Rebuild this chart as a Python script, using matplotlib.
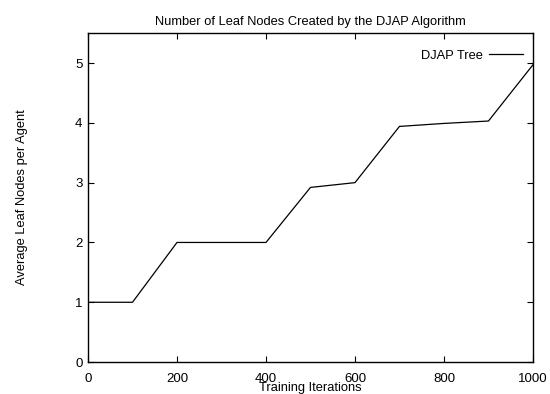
import matplotlib
matplotlib.use('Agg')
from matplotlib import pyplot as plt

plt.rcParams['font.family'] = ['Liberation Sans', 'DejaVu Sans']

iterations = [0, 100, 200, 300, 400, 500, 600, 700, 800, 900, 1000]
leaf_nodes = [1.0, 1.0, 2.0, 2.0, 2.0, 2.92, 3.0, 3.94, 3.99, 4.03, 4.97]

x_ticks = [0, 200, 400, 600, 800, 1000]
y_ticks = [0, 1, 2, 3, 4, 5]

fig = plt.figure(figsize=(5.5, 3.94), dpi=100)
ax = fig.add_axes([0.16, 0.081, 0.809, 0.835])

ax.plot(iterations, leaf_nodes, color='black', linewidth=0.9, label='DJAP Tree')

ax.set_xlim(0, 1000)
ax.set_ylim(0, 5.5)
ax.set_xticks(x_ticks)
ax.set_yticks(y_ticks)
ax.tick_params(direction='in', top=True, right=True, length=4.5, width=0.8,
               labelsize=9.5)
ax.tick_params(axis='x', pad=8)
ax.tick_params(axis='y', pad=4)
for s in ax.spines.values():
    s.set_linewidth(1.0)

ax.set_title('Number of Leaf Nodes Created by the DJAP Algorithm', fontsize=9.3, pad=6)
ax.set_xlabel('Training Iterations', fontsize=9.3, labelpad=-2)
ax.set_ylabel('Average Leaf Nodes per Agent', fontsize=9.3, labelpad=34)

ax.legend(loc='upper right', frameon=False, markerfirst=False, fontsize=9.3,
          handlelength=2.6, handletextpad=0.5,
          bbox_to_anchor=(1.003, 0.985))

plt.savefig('out.png', dpi=100)
